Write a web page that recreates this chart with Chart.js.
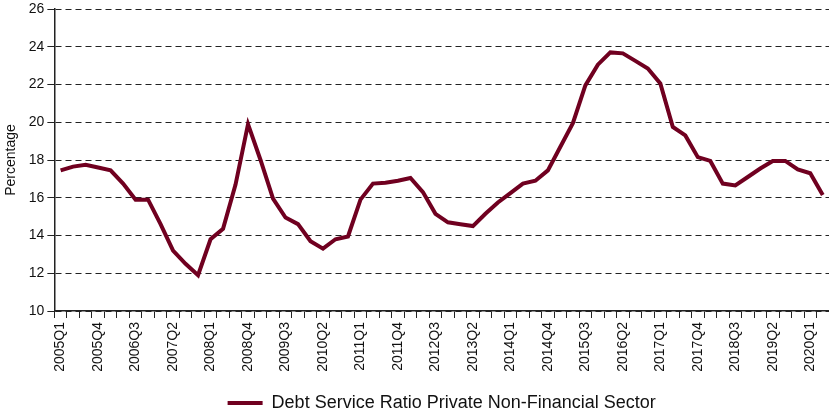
<!DOCTYPE html>
<html>
<head>
<meta charset="utf-8">
<script src="https://cdn.jsdelivr.net/npm/chart.js@4/dist/chart.umd.min.js"></script>
<style>
  html, body { margin: 0; padding: 0; background: #fff; }
  #wrap { width: 829px; height: 414px; }
</style>
</head>
<body>
<div id="wrap"><canvas id="dsrChart"></canvas></div>
<script>
// quarters 2005Q1 .. 2020Q2
const years = [2005, 2006, 2007, 2008, 2009, 2010, 2011, 2012, 2013, 2014, 2015, 2016, 2017, 2018, 2019, 2020];
const quarters = [];
years.forEach(function (y) {
    for (let q = 1; q <= 4; q++) {
        if (y === 2020 && q > 2) break;
        quarters.push(y + "Q" + q);
    }
});

// debt service ratio, %
const dsrValues = [
    17.45, 17.65, 17.75, 17.6, 17.45, 16.75, 15.9, 15.9, 14.6, 13.2,
    12.5, 11.9, 13.8, 14.35, 16.7, 19.9, 18.0, 15.95, 14.95, 14.6,
    13.7, 13.3, 13.8, 13.95, 15.9, 16.75, 16.8, 16.9, 17.05, 16.3,
    15.15, 14.7, 14.6, 14.5, 15.15, 15.75, 16.25, 16.75, 16.9, 17.45,
    18.7, 19.95, 21.95, 23.05, 23.7, 23.65, 23.25, 22.85, 22.05, 19.75,
    19.3, 18.15, 17.95, 16.75, 16.65, 17.1, 17.55, 17.95, 17.95, 17.5,
    17.3, 16.15
];

const yTicks = { min: 10, max: 26, step: 2 };
const lineColor = "#700020";

Chart.defaults.font.family = "'Liberation Sans', Arial, sans-serif";
Chart.defaults.color = "#111";

const ctx = document.getElementById("dsrChart").getContext("2d");
new Chart(ctx, {
    type: "line",
    data: {
        labels: quarters,
        datasets: [{
            label: "Debt Service Ratio Private Non-Financial Sector",
            data: dsrValues,
            borderColor: lineColor,
            backgroundColor: lineColor,
            borderWidth: 4,
            pointRadius: 0,
            pointStyle: "line",
            tension: 0,
            fill: false
        }]
    },
    options: {
        responsive: true,
        maintainAspectRatio: false,
        animation: false,
        layout: { padding: { top: 0, right: 0, left: 3, bottom: -8 } },
        plugins: {
            legend: {
                position: "bottom",
                fullSize: false,
                labels: {
                    usePointStyle: true,
                    pointStyle: "line",
                    pointStyleWidth: 35,
                    font: { size: 18 },
                    color: "#111",
                    padding: 3
                }
            },
            tooltip: { enabled: false }
        },
        scales: {
            x: {
                offset: true,
                grid: {
                    offset: true,
                    drawOnChartArea: false,
                    drawTicks: true,
                    tickLength: 7,
                    color: "#222"
                },
                border: { color: "#222", width: 1.5 },
                ticks: {
                    autoSkip: false,
                    maxRotation: 90,
                    minRotation: 90,
                    padding: 4,
                    font: { size: 14 },
                    color: "#111",
                    callback: function (val, i) {
                        return i % 3 === 0 ? quarters[i] : "";
                    }
                },
                afterFit: function (scale) {
                    // let the plot run to the right edge, leave a gap above the legend
                    scale.paddingRight = 0;
                    scale.paddingLeft = 0;
                    scale.height = 80;
                }
            },
            y: {
                min: yTicks.min,
                max: yTicks.max,
                grid: {
                    color: "#222",
                    lineWidth: 1,
                    tickLength: 7
                },
                border: { color: "#222", width: 1.5, dash: [6, 4] },
                ticks: {
                    stepSize: yTicks.step,
                    padding: 3,
                    font: { size: 14 },
                    color: "#111"
                },
                title: {
                    display: true,
                    text: "Percentage",
                    font: { size: 14 },
                    color: "#111",
                    padding: { top: 0, bottom: 6 }
                },
                afterFit: function (scale) {
                    scale.paddingTop = 9;
                }
            }
        }
    }
});
</script>
</body>
</html>
